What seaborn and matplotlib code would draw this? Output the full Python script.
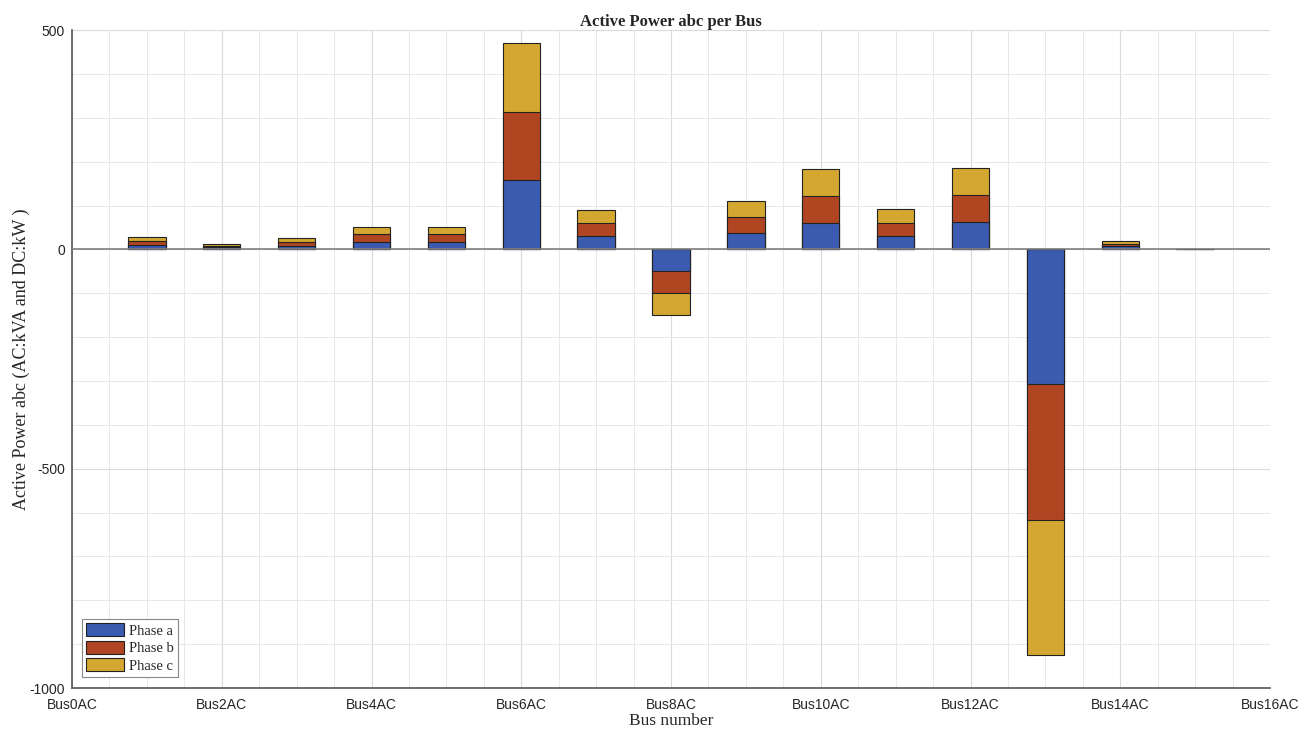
import numpy as np
import pandas as pd
import matplotlib
matplotlib.use("Agg")
import matplotlib.pyplot as plt
import seaborn as sns
from matplotlib.ticker import MultipleLocator
from matplotlib.patches import Patch

# ---- data ----
bus_pos = [1, 2, 3, 4, 5, 6, 7, 8, 9, 10, 11, 12, 13, 14, 15]
phase_a = [9.3, 4.3, 8.3, 17, 17, 157, 30, -50, 36.5, 61, 30.5, 61.5, -308, 6.6, 0.6]
phase_b = [9.3, 4.3, 8.3, 17, 17, 157, 30, -50, 36.5, 61, 30.5, 61.5, -308, 6.6, 0.6]
phase_c = [9.3, 4.3, 8.3, 17, 17, 157, 30, -50, 36.5, 61, 30.5, 61.5, -308, 6.6, 0.6]
tick_pos = [0, 2, 4, 6, 8, 10, 12, 14, 16]
tick_labels = ["Bus0AC", "Bus2AC", "Bus4AC", "Bus6AC", "Bus8AC", "Bus10AC", "Bus12AC", "Bus14AC", "Bus16AC"]
series_names = ["Phase a", "Phase b", "Phase c"]
colors = ["#3A5BAF", "#B04621", "#D4A830"]

sns.set_style("white")
plt.rcParams["axes.unicode_minus"] = False
serif = ["Liberation Serif", "DejaVu Serif"]
sans = ["Liberation Sans", "DejaVu Sans"]

fig = plt.figure(figsize=(13.07, 7.29), dpi=100)
ax = fig.add_axes([0.0551, 0.0562, 0.9166, 0.9026])

a = np.array(phase_a)
b = np.array(phase_b)
c = np.array(phase_c)
cums = [a + b + c, a + b, a]
order_colors = [colors[2], colors[1], colors[0]]
for vals, col in zip(cums, order_colors):
    df = pd.DataFrame({"bus": bus_pos, "val": vals})
    sns.barplot(data=df, x="bus", y="val", native_scale=True, width=0.5,
                color=col, saturation=1, edgecolor="#222222", linewidth=0.8,
                ax=ax, zorder=3)

ax.axhline(0, color="#7f7f7f", linewidth=1.2, zorder=4)

ax.set_xlim(0, 16)
ax.set_ylim(-1000, 500)
ax.xaxis.set_major_locator(MultipleLocator(2))
ax.xaxis.set_minor_locator(MultipleLocator(0.5))
ax.yaxis.set_major_locator(MultipleLocator(500))
ax.yaxis.set_minor_locator(MultipleLocator(100))
ax.set_xticks(tick_pos)
ax.set_xticklabels(tick_labels, fontfamily=sans, fontsize=10)
for lbl in ax.get_yticklabels():
    lbl.set_fontfamily(sans)
    lbl.set_fontsize(10)
ax.tick_params(axis="both", which="major", direction="in", length=6, width=1, color="#333333")
ax.tick_params(axis="x", which="major", pad=7)
ax.tick_params(axis="y", which="major", pad=5)
ax.tick_params(axis="both", which="minor", length=0)

ax.grid(True, which="major", color="#dadada", linewidth=0.8, zorder=0)
ax.grid(True, which="minor", color="#e8e8e8", linewidth=0.7, zorder=0)
ax.set_axisbelow(True)

for s in ["top", "right"]:
    ax.spines[s].set_visible(False)
for s in ["left", "bottom"]:
    ax.spines[s].set_color("#555555")
    ax.spines[s].set_linewidth(1.2)

ax.set_title("Active Power abc per Bus", fontfamily=serif, fontweight="bold", fontsize=12, pad=3)
ax.set_xlabel("Bus number", fontfamily=serif, fontsize=12.5, labelpad=1)
ax.set_ylabel("Active Power abc (AC:kVA and DC:kW )", fontfamily=serif, fontsize=13, labelpad=0)

handles = [Patch(facecolor=col, edgecolor="#222222", linewidth=0.8, label=n)
           for col, n in zip(colors, series_names)]
leg = ax.legend(handles=handles, loc="lower left", bbox_to_anchor=(0.006, 0.012),
                prop={"family": serif, "size": 10.5}, fancybox=False, framealpha=1,
                edgecolor="#888888", handlelength=2.6, handleheight=1.0,
                borderpad=0.3, labelspacing=0.2, handletextpad=0.3, borderaxespad=0.2)
leg.get_frame().set_linewidth(0.8)

fig.savefig("out.png", dpi=100)
